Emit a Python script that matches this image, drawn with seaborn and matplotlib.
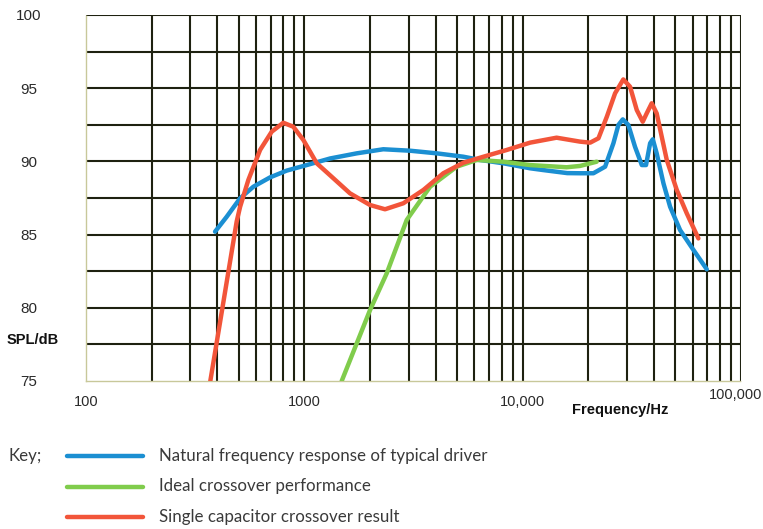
import numpy as np
import pandas as pd
import matplotlib
matplotlib.use("Agg")
import matplotlib.pyplot as plt
import seaborn as sns
from matplotlib.lines import Line2D
from matplotlib.transforms import ScaledTranslation

# ---------------- data ----------------
natural_freq = [390, 441, 508, 584, 697, 830, 1026, 1312, 1738, 2300, 3050, 4040, 5350, 6380,
                8160, 10810, 12400, 16000, 18320, 21090, 23860, 26040, 27440, 28740, 30480,
                32700, 35130, 36730, 38350, 39450, 41100, 44140, 47350, 52600, 60570, 69700]
natural_spl = [85.2, 86.22, 87.48, 88.27, 88.91, 89.37, 89.75, 90.2, 90.55, 90.83, 90.73, 90.55,
               90.32, 90.1, 89.87, 89.53, 89.41, 89.2, 89.19, 89.19, 89.64, 91.24, 92.49, 92.87,
               92.49, 91.0, 89.75, 89.75, 91.24, 91.51, 90.55, 88.5, 86.9, 85.31, 83.95, 82.63]

ideal_freq = [1483, 2000, 2385, 2944, 3767, 4990, 6170, 8160, 10810, 15900, 18320, 21830]
ideal_spl = [75.0, 79.85, 82.36, 86.0, 88.27, 89.64, 90.1, 89.98, 89.75, 89.6, 89.69, 89.98]

single_freq = [371, 411, 449, 490, 508, 554, 627, 709, 801, 890, 990, 1140, 1312,
               1618, 2000, 2342, 2841, 3510, 4330, 5350, 6610, 8450, 10810, 14300, 18320, 20370,
               22240, 24290, 26500, 28900, 31040, 33310, 35480, 36990, 39000, 41100, 45710,
               50800, 56450, 63800]
single_spl = [75.0, 79.0, 82.47, 85.9, 86.9, 88.73, 90.78, 92.03, 92.64, 92.37,
              91.46, 89.87, 89.05, 87.82, 87.02, 86.73, 87.14, 88.05, 89.19, 89.91, 90.32, 90.78,
              91.28, 91.62, 91.35, 91.28, 91.58, 93.05, 94.65, 95.6, 95.1, 93.51, 92.71, 93.28,
              93.97, 93.28, 90.1, 88.05, 86.45, 84.74]

series_names = ["Natural frequency response of typical driver",
                "Ideal crossover performance",
                "Single capacitor crossover result"]
series_colors = ["#1b8fd2", "#80cc4c", "#f2553a"]

x_ticks = [100, 1000, 10000, 100000]
x_tick_labels = ["100", "1000", "10,000", "100,000"]
y_ticks = [75, 80, 85, 90, 95, 100]
y_tick_labels = ["75", "80", "85", "90", "95", "100"]

df = pd.concat([
    pd.DataFrame({"freq": natural_freq, "spl": natural_spl, "series": series_names[0]}),
    pd.DataFrame({"freq": ideal_freq, "spl": ideal_spl, "series": series_names[1]}),
    pd.DataFrame({"freq": single_freq, "spl": single_spl, "series": series_names[2]}),
], ignore_index=True)

# ---------------- plot ----------------
sns.set_theme(style="white")
plt.rcParams["font.family"] = ["Liberation Sans", "DejaVu Sans"]

W, H = 763, 529
fig = plt.figure(figsize=(W / 100, H / 100), dpi=100)
ax = fig.add_axes([86 / W, 1 - 381 / H, (741 - 86) / W, (381 - 15) / H])

grid_color = "#1e2110"
ax.set_xscale("log")
ax.set_xlim(100, 100000)
ax.set_ylim(75, 100)

minor_x = [m * 10 ** e for e in (2, 3, 4) for m in range(2, 10)]
ax.set_xticks(x_ticks)
ax.set_xticks(minor_x, minor=True)
ax.set_xticklabels(x_tick_labels)
ax.set_yticks(y_ticks)
ax.set_yticks([77.5, 82.5, 87.5, 92.5, 97.5], minor=True)
ax.set_yticklabels(y_tick_labels)
ax.tick_params(which="both", length=0)
ax.tick_params(axis="x", which="major", pad=10, labelsize=10.5, labelcolor="#2a2a2a")
ax.tick_params(axis="y", which="major", pad=41, labelsize=11, labelcolor="#2a2a2a")
for lab in ax.get_yticklabels():
    lab.set_horizontalalignment("center")
ax.xaxis.set_minor_formatter(matplotlib.ticker.NullFormatter())

ax.grid(which="both", color=grid_color, lw=1.5)
ax.set_axisbelow(True)
# hide gridlines at the left/bottom edges, replaced by faint dotted spines
ax.get_xgridlines()[0].set_visible(False)
ax.get_ygridlines()[0].set_visible(False)
for s in ["top", "right"]:
    ax.spines[s].set_visible(False)
for s in ["left", "bottom"]:
    ax.spines[s].set_color("#c8c89a")
    ax.spines[s].set_linestyle((0, (1, 1)))
    ax.spines[s].set_linewidth(1.0)

sns.lineplot(data=df, x="freq", y="spl", hue="series", hue_order=series_names,
             palette=dict(zip(series_names, series_colors)), sort=False, estimator=None,
             lw=3.2, legend=False, ax=ax, zorder=3, solid_capstyle="round",
             solid_joinstyle="round")
ax.set_xlabel("")
ax.set_ylabel("")

# shift the last x label up/left a little like the reference
last = ax.get_xticklabels()[-1]
last.set_transform(last.get_transform()
                   + ScaledTranslation(-5 / 100, 7 / 100, fig.dpi_scale_trans))

# axis titles
fig.text(7 / W, 1 - 340 / H, "SPL/dB", fontsize=10.5, fontweight="bold", color="#111111",
         ha="left", va="center")
fig.text(572 / W, 1 - 410 / H, "Frequency/Hz", fontsize=10.5, fontweight="bold", color="#111111",
         ha="left", va="center")

# key
key_font = ["Lato", "DejaVu Sans"]
fig.text(8 / W, 1 - 456 / H, "Key;", fontsize=12.2, color="#3a3a3a", ha="left", va="center",
         family=key_font)
for i, (name, col) in enumerate(zip(series_names, series_colors)):
    yy = 1 - (456 + 30.5 * i) / H
    fig.add_artist(Line2D([67 / W, 143 / W], [yy, yy], color=col, lw=3.2,
                          transform=fig.transFigure))
    fig.text(159 / W, yy, name, fontsize=12.2, color="#3a3a3a", ha="left", va="center",
             family=key_font)

fig.savefig("out.png", dpi=100)
